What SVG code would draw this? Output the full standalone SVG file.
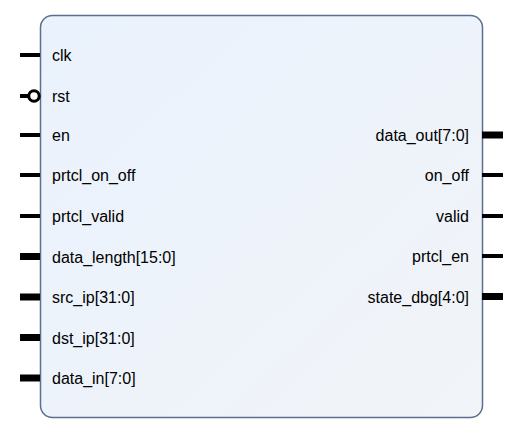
<svg xmlns="http://www.w3.org/2000/svg" width="515" height="436" viewBox="0 0 515 436">
<defs>
<linearGradient id="bg" x1="0" y1="0" x2="1" y2="1">
<stop offset="0" stop-color="#eaf2fd"/>
<stop offset="1" stop-color="#f1f4f8"/>
</linearGradient>
</defs>
<style>
.lbl{font-family:"Liberation Sans",Arial,sans-serif;font-size:16px;fill:#000}
.r{text-anchor:end}
.pin{stroke:#000;stroke-width:4;fill:none}
.bus{stroke:#000;stroke-width:7;fill:none}
</style>
<rect width="515" height="436" fill="#fff"/>
<g id="block">
<rect x="40.5" y="15.5" width="442" height="402" rx="12" ry="12" fill="url(#bg)" stroke="#5b6f8e" stroke-width="1.5"/>
</g>
<g id="connectors">
<line class="pin" x1="20" y1="55" x2="40" y2="55"/>
<line class="pin" x1="20" y1="96" x2="28" y2="96"/>
<circle cx="34" cy="96" r="5.2" fill="#fff" stroke="#000" stroke-width="3"/>
<line class="pin" x1="20" y1="135" x2="40" y2="135"/>
<line class="pin" x1="20" y1="175" x2="40" y2="175"/>
<line class="pin" x1="20" y1="216" x2="40" y2="216"/>
<line class="bus" x1="20" y1="256.5" x2="40" y2="256.5"/>
<line class="bus" x1="20" y1="297" x2="40" y2="297"/>
<line class="bus" x1="20" y1="337.5" x2="40" y2="337.5"/>
<line class="bus" x1="20" y1="378" x2="40" y2="378"/>
<line class="bus" x1="482" y1="135" x2="503" y2="135"/>
<line class="pin" x1="482" y1="175" x2="503" y2="175"/>
<line class="pin" x1="482" y1="216" x2="503" y2="216"/>
<line class="pin" x1="482" y1="256" x2="503" y2="256"/>
<line class="bus" x1="482" y1="296.5" x2="503" y2="296.5"/>
</g>
<g id="ports-in">
<text class="lbl" x="52" y="61">clk</text>
<text class="lbl" x="52" y="101.5">rst</text>
<text class="lbl" x="52" y="141">en</text>
<text class="lbl" x="52" y="181">prtcl_on_off</text>
<text class="lbl" x="52" y="222">prtcl_valid</text>
<text class="lbl" x="52" y="262.5">data_length[15:0]</text>
<text class="lbl" x="52" y="303">src_ip[31:0]</text>
<text class="lbl" x="52" y="343.5">dst_ip[31:0]</text>
<text class="lbl" x="52" y="384">data_in[7:0]</text>
</g>
<g id="ports-out">
<text class="lbl r" x="469" y="141">data_out[7:0]</text>
<text class="lbl r" x="469" y="181">on_off</text>
<text class="lbl r" x="469" y="222">valid</text>
<text class="lbl r" x="469" y="262">prtcl_en</text>
<text class="lbl r" x="469" y="302.5">state_dbg[4:0]</text>
</g>
</svg>
